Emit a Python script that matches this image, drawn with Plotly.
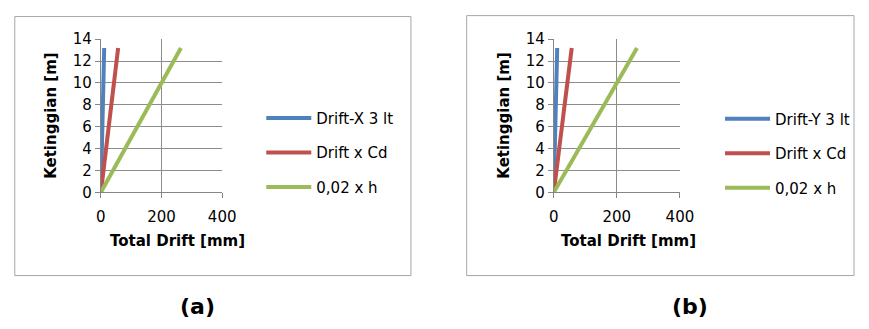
import plotly.graph_objects as go

W, H = 869, 329

# ---- data ----
heights = [0, 4.4, 8.8, 13.2]            # Ketinggian [m]
drift_x = [0, 3.8, 7.5, 11]              # Drift-X 3 lt [mm]
drift_y = [0, 3.8, 7.5, 11]              # Drift-Y 3 lt [mm]
drift_cd_a = [0, 19, 38, 57]             # Drift x Cd (a)
drift_cd_b = [0, 19, 38, 57]             # Drift x Cd (b)
limit = [0, 88, 176, 264]                # 0,02 x h
x_ticks = [0, 200, 400]
y_ticks = [0, 2, 4, 6, 8, 10, 12, 14]

BLUE, RED, GREEN = "#4F81BD", "#C0504D", "#9BBB59"
FONT = "DejaVu Sans"

def px(x):
    return x / W

def py(y):
    return 1 - y / H

fig = go.Figure()

panels = [
    dict(xa="x", ya="y", leg="legend", first="Drift-X 3 lt", d1=drift_x, cd=drift_cd_a),
    dict(xa="x2", ya="y2", leg="legend2", first="Drift-Y 3 lt", d1=drift_y, cd=drift_cd_b),
]
for i, p in enumerate(panels):
    for j, (name, xs, col) in enumerate([(p["first"], p["d1"], BLUE),
                                          ("Drift x Cd", p["cd"], RED),
                                          ("0,02 x h", limit, GREEN)]):
        fig.add_trace(go.Scatter(x=xs, y=heights, mode="lines", name=name,
                                 line=dict(color=col, width=4),
                                 xaxis=p["xa"], yaxis=p["ya"], legend=p["leg"],
                                 legendgroup=f"g{i}{j}", showlegend=True))

axis_common = dict(showgrid=True, gridcolor="#8c8c8c", gridwidth=1,
                   showline=True, linecolor="#868686", linewidth=1,
                   ticks="outside", ticklen=5, tickcolor="#868686",
                   tickfont=dict(family=FONT, size=15, color="#000"),
                   zeroline=False, fixedrange=True)

ydom = [py(194), py(32)]
fig.update_layout(
    width=W, height=H, margin=dict(l=0, r=0, t=0, b=0),
    paper_bgcolor="white", plot_bgcolor="white",
    xaxis=dict(domain=[px(98), px(222)], range=[0, 400], tickvals=x_ticks,
               anchor="y", ticklabelstandoff=6, **axis_common),
    yaxis=dict(domain=ydom, range=[0, 14], tickvals=y_ticks, anchor="x", **axis_common),
    xaxis2=dict(domain=[px(561), px(690)], range=[0, 400], tickvals=x_ticks,
                anchor="y2", ticklabelstandoff=6, **axis_common),
    yaxis2=dict(domain=ydom, range=[0, 14], tickvals=y_ticks, anchor="x2", **axis_common),
    legend=dict(x=px(262), y=py(98), xanchor="left", yanchor="top",
                font=dict(family=FONT, size=15, color="#000"),
                itemwidth=45, tracegroupgap=12, bgcolor="rgba(0,0,0,0)"),
    legend2=dict(x=px(731), y=py(99), xanchor="left", yanchor="top",
                 font=dict(family=FONT, size=15, color="#000"),
                 itemwidth=45, tracegroupgap=12, bgcolor="rgba(0,0,0,0)"),
    showlegend=True,
)

shapes = []
for (x0, y0, x1, y1) in [(10, 8, 415, 282), (472, 7, 868, 282)]:
    shapes.append(dict(type="rect", xref="paper", yref="paper",
                       x0=px(x0), x1=px(x1), y0=py(y1), y1=py(y0),
                       line=dict(color="#a6a6a6", width=1), fillcolor="rgba(0,0,0,0)"))
fig.update_layout(shapes=shapes)

ann = []
def add(text, x, y, size=15, angle=0, bold=True):
    ann.append(dict(text=f"<b>{text}</b>" if bold else text, x=px(x), y=py(y),
                    xref="paper", yref="paper", showarrow=False,
                    xanchor="center", yanchor="middle", textangle=angle,
                    font=dict(family=FONT, size=size, color="#000")))

add("Ketinggian [m]", 47, 112, angle=-90)
add("Total Drift [mm]", 176, 245)
add("Ketinggian [m]", 510, 112, angle=-90)
add("Total Drift [mm]", 637, 245)
add("(a)", 197, 315, size=22)
add("(b)", 700, 315, size=22)
fig.update_layout(annotations=ann)

fig.write_html("out.html")
